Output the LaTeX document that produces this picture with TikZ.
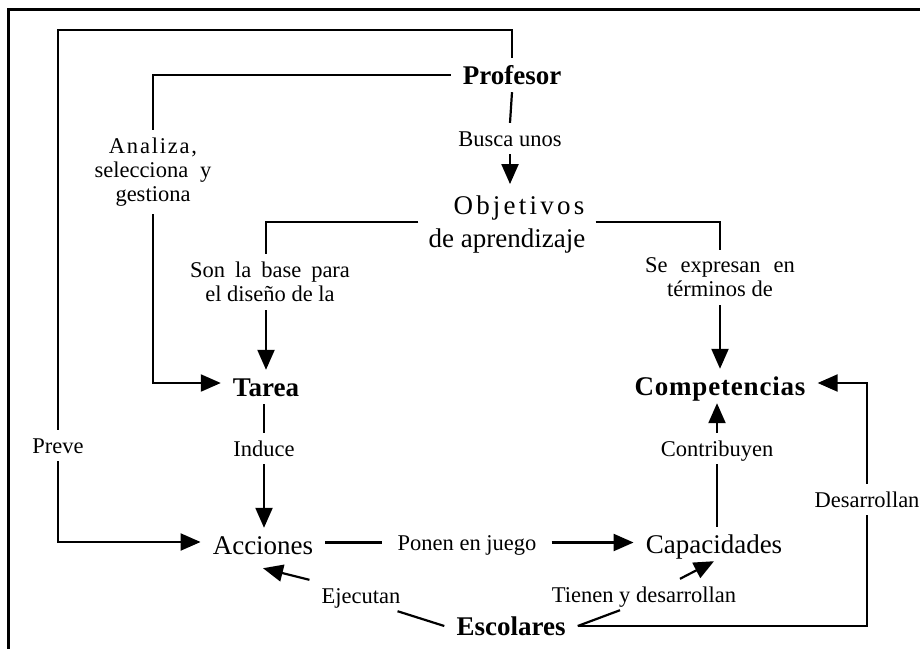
\documentclass[tikz,border=0pt]{standalone}
\usepackage{fontspec}
\setmainfont{Liberation Serif}
\usetikzlibrary{arrows.meta}
\begin{document}
\begin{tikzpicture}[x=1pt,y=-1pt,
  conn/.style={line width=2.2pt},
  arr/.style={conn,-{Triangle[length=20pt,width=17pt]}},
  nd/.style={font=\fontsize{27}{33}\selectfont, text height=18pt, text depth=0pt, inner xsep=12pt, inner ysep=8pt, anchor=base},
  bnd/.style={nd, font=\fontsize{27}{33}\selectfont\bfseries},
  lbl/.style={font=\fontsize{22.5}{24}\selectfont, text height=15pt, text depth=0pt, inner xsep=12pt, inner ysep=8pt, anchor=base},
  mlbl/.style={font=\fontsize{22.5}{24}\selectfont, align=center, inner xsep=12pt, inner ysep=8pt},
  frame/.style={line width=3pt}
]
\useasboundingbox (0,0) rectangle (920,648);
\draw[frame] (8.3,650) -- (8.3,9.7) -- (922,9.7);

% main nodes
\node[bnd] (prof) at (512,84) {Profesor};
\node[font=\fontsize{27}{33}\selectfont, align=center, inner xsep=10pt, inner ysep=12pt] (obj) at (507,225)
  {\hspace*{24pt}{\addfontfeatures{LetterSpace=12}Objetivos}\\de aprendizaje};
\node[bnd] (tarea) at (266,396) {Tarea};
\node[bnd] (comp) at (720,395) {{\addfontfeatures{LetterSpace=3}Competencias}};
\node[nd] (acc) at (263,554) {Acciones};
\node[nd] (cap) at (714,553) {Capacidades};
\node[bnd] (esc) at (511,635) {Escolares};

% labels
\node[lbl] (busca) at (510,146) {Busca unos};
\node[mlbl] (analiza) at (153,172) {{\addfontfeatures{LetterSpace=8}Analiza,}\\selecciona\hspace{12pt}y\\gestiona};
\node[mlbl] (sonla) at (270,282) {Son\hspace{10pt}la\hspace{10pt}base\hspace{10pt}para\\el diseño de la};
\node[mlbl] (seexp) at (720,277.5) {Se\hspace{13pt}expresan\hspace{13pt}en\\términos de};
\node[lbl] (preve) at (58,453) {Preve};
\node[lbl] (induce) at (264,456) {Induce};
\node[lbl] (contrib) at (717,456) {Contribuyen};
\node[lbl] (desarr) at (867,507) {Desarrollan};
\node[lbl, inner xsep=15pt] (ponen) at (467,550) {Ponen en juego};
\node[lbl] (ejec) at (361,603) {Ejecutan};
\node[lbl] (tienen) at (644,602) {Tienen y desarrollan};

\coordinate (tl) at (58,30);

% connectors
\draw[conn] (prof.north) |- (tl) -- (preve.north);
\draw[arr] (preve.south) |- ([yshift=3pt]acc.west);
\draw[conn] (prof.west) -| (analiza.north);
\draw[arr] (analiza.south) |- ([yshift=4pt]tarea.west);
\draw[conn] (prof.south) -- (busca.north);
\draw[arr] (busca.south) -- (busca.south |- obj.north);
\draw[conn] ([yshift=3pt]obj.west) -| (tarea.north |- sonla.north);
\draw[arr] (tarea.north |- sonla.south) -- (tarea.north);
\draw[conn] ([yshift=3pt]obj.east) -| (comp.north |- seexp.north);
\draw[arr] (comp.north |- seexp.south) -- (comp.north);
\draw[conn] (tarea.south -| induce) -- (induce.north);
\draw[arr] (induce.south) -- (induce.south |- acc.north);
\draw[conn] (ponen.west -| acc.east) -- (ponen.west);
\draw[arr] (ponen.east) -- (ponen.east -| cap.west);
\draw[conn] (cap.north -| contrib) -- (contrib.south);
\draw[arr] (contrib.north) -- (contrib.north |- comp.south);
\draw[conn] (esc.east) -- (esc.east -| desarr) -- (desarr.south);
\draw[arr] (desarr.north) |- ([yshift=3pt]comp.east);
\draw[conn] (esc.west) -- ([xshift=-15pt]ejec.south east);
\draw[arr] (ejec.north west) -- ([yshift=-6pt]acc.south);
\draw[conn] (esc.east) -- ([xshift=-24pt]tienen.south);
\draw[arr] ([xshift=36pt]tienen.north) -- (cap.south);
\end{tikzpicture}
\end{document}
